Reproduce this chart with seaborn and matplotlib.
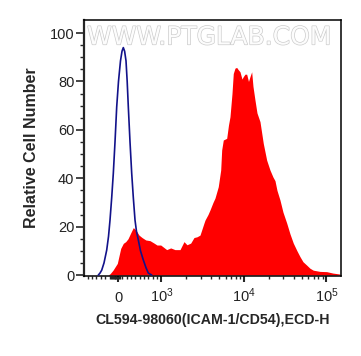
import numpy as np
import pandas as pd
import matplotlib
matplotlib.use("Agg")
import matplotlib.pyplot as plt
import matplotlib.patheffects as pe
import seaborn as sns

# ---- data ----
ctrl_x = [-453, -414, -375, -322, -260, -218, -184, -145, -108, -69, -30, 11, 57, 92,
          122, 152, 184, 211, 237, 276, 315, 352, 391, 425, 467, 517, 582, 644, 697, 775]
ctrl_y = [0, 0.8, 2, 5, 10.3, 16, 22.7, 32, 42, 55, 69.5, 80, 88.5, 92.5,
          94, 92.5, 88.5, 80, 69.5, 55, 42, 32, 22.7, 18, 14.5, 10, 6.2, 3, 0.8, 0]

samp_x = [-230, -184, -115, -16, 62, 122, 177, 230, 292, 352, 414, 483, 552, 637, 736,
          828, 897, 982, 1156, 1293, 1457, 1676, 1874, 2037, 2259, 2477, 2693, 2929,
          3275, 3368, 3661, 3872, 4209, 4450, 4877, 5220, 5367, 5611, 6170, 6488, 6764,
          7153, 7417, 7780, 8155, 8460, 8945, 9458, 9806, 10283, 10783, 11337, 11822,
          12397, 12853, 13595, 14376, 15631, 17140, 18840, 20660, 22463, 23758, 25119,
          27312, 29696, 32935, 36114, 39593, 43893, 47742, 51894, 57544, 63096, 69183,
          83399, 100553, 119950, 145730]
samp_y = [0, 0.5, 2, 4.8, 11, 13.1, 13.8, 15, 17.4, 19.6, 18.5, 16.5, 15.5, 14.5, 14.2,
          13.2, 12.4, 12.4, 10.5, 11.2, 10.5, 10.5, 13.8, 12.5, 13.2, 15.5, 15.8, 16.5,
          21.5, 22.7, 25, 26.9, 30, 31.8, 36.5, 43.4, 51.7, 55.8, 56.5, 62, 65.4,
          75, 83.3, 85.5, 85.8, 85, 84, 81, 82, 83, 83, 80, 82,
          84, 78, 72.3, 67, 63.4, 54.4, 47.5, 43.4, 40.5, 39, 35,
          31, 26, 21.5, 17, 13.2, 10, 7.6, 5.5, 4.1, 2.8, 2,
          1.5, 1.4, 0.8, 0.4]

y_ticks = [0, 20, 40, 60, 80, 100]
x_major = [0, 1e3, 1e4, 1e5]
x_labels = ["0", r"$10^{3}$", r"$10^{4}$", r"$10^{5}$"]

ctrl = pd.DataFrame({"x": ctrl_x, "y": ctrl_y})
samp = pd.DataFrame({"x": samp_x, "y": samp_y})

sns.set_style("ticks")
plt.rcParams["font.family"] = ["Liberation Sans", "DejaVu Sans"]
plt.rcParams["mathtext.fontset"] = "custom"
plt.rcParams["mathtext.rm"] = "Liberation Sans"
plt.rcParams["mathtext.it"] = "Liberation Sans"
plt.rcParams["mathtext.bf"] = "Liberation Sans:bold"

fig = plt.figure(figsize=(3.61, 3.56), dpi=100)
ax = fig.add_axes([84 / 361, 1 - 276 / 356, (341 - 84) / 361, (276 - 20) / 356])

ax.set_xscale("symlog", linthresh=1000, linscale=0.4745, base=10)

ax.fill_between(samp["x"], 0, samp["y"], color="#ff0000", linewidth=0, zorder=2)
sns.lineplot(data=ctrl, x="x", y="y", ax=ax, color="#12128a", linewidth=1.2,
             sort=False, estimator=None, zorder=3)

ax.set_xlim(-782, 150000)
ax.set_ylim(-0.4, 105.4)

ax.set_yticks(y_ticks)
ax.set_yticks(np.arange(0, 105, 5), minor=True)
ax.set_xticks(x_major)
ax.set_xticklabels(x_labels)
minor = [-700, -600, -500, -400, -300] + list(range(-180, 60, 20)) + \
        [100, 200, 300, 400, 500, 600, 700, 800, 900] + \
        [2000, 3000, 4000, 5000, 6000, 7000, 8000, 9000] + \
        [20000, 30000, 40000, 50000, 60000, 70000, 80000, 90000]
ax.set_xticks(minor, minor=True)

ax.tick_params(axis="y", which="major", length=5.5, width=1.2, labelsize=10.5,
               labelcolor="#222222", pad=1.5, direction="out")
ax.tick_params(axis="y", which="minor", length=3, width=1.0, direction="out")
ax.tick_params(axis="x", which="major", length=4.5, width=1.5, labelsize=10.5,
               labelcolor="#222222", pad=14, direction="out")
ax.tick_params(axis="x", which="minor", length=2.5, width=1.0, direction="out")
for lab in ax.get_xticklabels():
    lab.set_verticalalignment("baseline")

for side in ["top", "right", "bottom"]:
    ax.spines[side].set_visible(True)
    ax.spines[side].set_linewidth(1.1)
    ax.spines[side].set_color("black")
ax.spines["left"].set_linewidth(1.6)

ax.set_xlabel("CL594-98060(ICAM-1/CD54),ECD-H", fontsize=10.2, fontweight="bold",
              labelpad=6)
ax.set_ylabel("Relative Cell Number", fontsize=11.5, fontweight="bold", labelpad=8)

wm = ax.text(0.488, 0.932, "WWW.PTGLAB.COM", transform=ax.transAxes, ha="center",
             va="center", fontsize=18, color="#fcfcfc", zorder=1,
             family="DejaVu Sans")
wm.set_path_effects([pe.Stroke(linewidth=1.0, foreground="#cccccc"), pe.Normal()])

fig.savefig("out.png", dpi=100)
